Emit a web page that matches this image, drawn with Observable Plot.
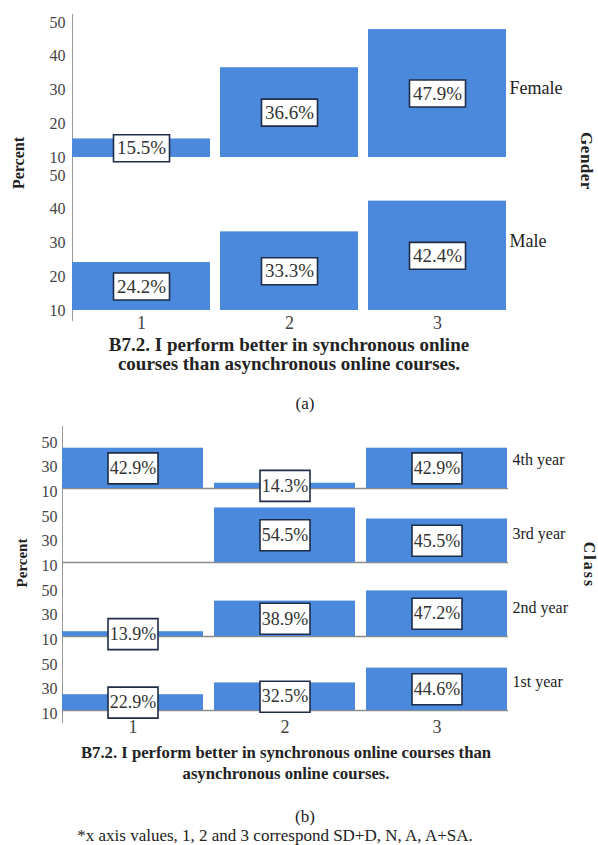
<!DOCTYPE html>
<html>
<head>
<meta charset="utf-8">
<script src="https://cdn.jsdelivr.net/npm/d3@7"></script>
<script src="https://cdn.jsdelivr.net/npm/@observablehq/plot@0.6"></script>
<style>
  body { margin: 0; background: #fff; font-family: "Liberation Serif", "Times New Roman", serif; color: #222; }
  #page { position: relative; width: 598px; height: 845px; overflow: hidden; background: #fff; }
  .chart { position: absolute; left: 0; }
  .t { position: absolute; white-space: nowrap; transform: translate(-50%, -50%); }
  .up { transform: translate(-50%, -50%) rotate(-90deg); }
  .down { transform: translate(-50%, -50%) rotate(90deg); }
  .b { font-weight: bold; }
  .title { position: absolute; text-align: center; font-weight: bold; color: #222; }
</style>
</head>
<body>
<div id="page">
  <div id="chartA" class="chart" style="top:0px"></div>
  <div class="t up b" style="left:19px; top:163px; font-size:16px;">Percent</div>
  <div class="t down b" style="left:586px; top:161px; font-size:17px; letter-spacing:0.5px;">Gender</div>
  <div class="title" style="left:0; width:578px; top:335px; font-size:19px; line-height:19px;">B7.2. I perform better in synchronous online<br>courses than asynchronous online courses.</div>
  <div class="t" style="left:305px; top:404px; font-size:17px;">(a)</div>

  <div id="chartB" class="chart" style="top:420px"></div>
  <div class="t up b" style="left:22px; top:563px; font-size:15px;">Percent</div>
  <div class="t down b" style="left:589px; top:565px; font-size:16px; letter-spacing:2px;">Class</div>
  <div class="title" style="left:0; width:572px; top:742px; font-size:16.7px; line-height:21px;">B7.2. I perform better in synchronous online courses than<br>asynchronous online courses.</div>
  <div class="t" style="left:305px; top:817px; font-size:17px;">(b)</div>
  <div class="t" style="left:275px; top:836px; font-size:17px;">*x axis values, 1, 2 and 3 correspond SD+D, N, A, A+SA.</div>
</div>
<script>
// ---- Data ----
const responseCodes = ["1", "2", "3"];           // x-axis categories (SD+D, N, A+SA)
const genderGroups = ["Female", "Male"];
const femaleValues = [15.5, 36.6, 47.9];
const maleValues = [24.2, 33.3, 42.4];

const classGroups = ["4th year", "3rd year", "2nd year", "1st year"];
const year4Values = [42.9, 14.3, 42.9];
const year3Values = [0, 54.5, 45.5];
const year2Values = [13.9, 38.9, 47.2];
const year1Values = [22.9, 32.5, 44.6];

const yTicksA = [10, 20, 30, 40, 50];
const yTicksB = [10, 30, 50];
const yDomain = [10, 50];

// ---- Helpers ----
const yMin = yDomain[0];
function rows(groups, series) {
  return groups.flatMap((g, i) => responseCodes.map((c, j) => ({group: g, code: c, value: series[i][j]})));
}
function boxSymbol(w, h) {
  return {
    draw(ctx) {
      ctx.moveTo(-w / 2, -h / 2);
      ctx.lineTo(w / 2, -h / 2);
      ctx.lineTo(w / 2, h / 2);
      ctx.lineTo(-w / 2, h / 2);
      ctx.closePath();
    }
  };
}
const barColor = "#4a89dc";
const fontFamily = '"Liberation Serif", "Times New Roman", serif';

const dataA = rows(genderGroups, [femaleValues, maleValues]);
const dataB = rows(classGroups, [year4Values, year3Values, year2Values, year1Values]);
const mid = d => (yMin + d.value) / 2;
const label = d => d.value.toFixed(1) + "%";

// ---- Chart (a) ----
const plotA = Plot.plot({
  width: 598, height: 334,
  marginLeft: 72, marginRight: 92, marginTop: 21, marginBottom: 24,
  style: {fontFamily, color: "#333", background: "transparent", overflow: "visible"},
  x: {type: "band", domain: responseCodes, paddingInner: 0.07, paddingOuter: 0},
  y: {domain: yDomain},
  fy: {domain: genderGroups, paddingInner: 0.118, paddingOuter: 0},
  marks: [
    Plot.frame({anchor: "left", stroke: "#9a9a9a", insetTop: -8, insetBottom: -10}),
    Plot.barY(dataA.filter(d => d.value > 0), {x: "code", fy: "group", y1: () => yMin, y2: d => Math.max(yMin, d.value), fill: barColor}),
    Plot.dot(dataA.filter(d => d.value > 0), {x: "code", fy: "group", y: mid, r: 10, symbol: boxSymbol(56, 27), fill: "white", stroke: "#1f2c48", strokeWidth: 1.6}),
    Plot.text(dataA.filter(d => d.value > 0), {x: "code", fy: "group", y: mid, text: label, fontSize: 19, fill: "#333"}),
    Plot.axisY({ticks: yTicksA, tickSize: 0, tickPadding: 7, fontSize: 16, label: null, color: "#444"}),
    Plot.axisX({tickSize: 0, tickPadding: 6, fontSize: 18, label: null, color: "#444"}),
    Plot.axisFy({anchor: "right", tickSize: 0, tickPadding: 3, fontSize: 18, label: null, color: "#222", dy: -2})
  ]
});
document.getElementById("chartA").append(plotA);

// ---- Chart (b) ----
const plotB = Plot.plot({
  width: 598, height: 319,
  marginLeft: 62, marginRight: 90, marginTop: 18, marginBottom: 28,
  style: {fontFamily, color: "#333", background: "transparent", overflow: "visible"},
  x: {type: "band", domain: responseCodes, paddingInner: 0.07, paddingOuter: 0},
  y: {domain: yDomain},
  fy: {domain: classGroups, paddingInner: 0.336, paddingOuter: 0},
  marks: [
    Plot.frame({anchor: "left", stroke: "#9a9a9a", insetTop: -13, insetBottom: -12}),
    Plot.ruleY([yMin], {stroke: "#8c8c8c", strokeWidth: 1.5}),
    Plot.barY(dataB.filter(d => d.value > 0), {x: "code", fy: "group", y1: () => yMin, y2: d => Math.max(yMin, d.value), fill: barColor}),
    Plot.dot(dataB.filter(d => d.value > 0), {x: "code", fy: "group", y: mid, r: 10, symbol: boxSymbol(50, 31), fill: "white", stroke: "#1f2c48", strokeWidth: 1.6}),
    Plot.text(dataB.filter(d => d.value > 0), {x: "code", fy: "group", y: mid, text: label, fontSize: 18, fill: "#333"}),
    Plot.axisY({ticks: yTicksB, tickSize: 0, tickPadding: 5, fontSize: 16, label: null, color: "#444", dy: 3}),
    Plot.axisX({tickSize: 0, tickPadding: 10, fontSize: 18, label: null, color: "#444"}),
    Plot.axisFy({anchor: "right", tickSize: 0, tickPadding: 4, fontSize: 16, label: null, color: "#222", dy: -4})
  ]
});
document.getElementById("chartB").append(plotB);
</script>
</body>
</html>
